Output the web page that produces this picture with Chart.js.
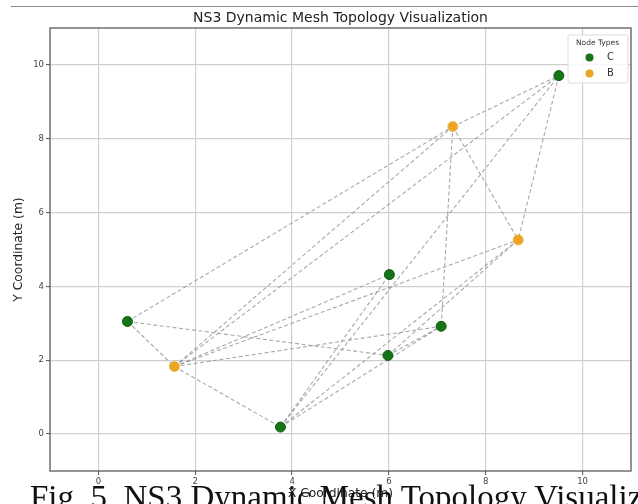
<!DOCTYPE html>
<html>
<head>
<meta charset="utf-8">
<script src="https://cdn.jsdelivr.net/npm/chart.js@4.4.1/dist/chart.umd.min.js"></script>
<style>
  html, body { margin: 0; padding: 0; background: #fff; width: 638px; height: 504px; overflow: hidden; }
  #wrap { position: relative; width: 638px; height: 504px; overflow: hidden; }
  #c { position: absolute; left: 0; top: 0; }
  #rule { position: absolute; left: 11px; right: 0; top: 6px; height: 1px; background: #8a8a8a; }
  #caption { position: absolute; left: 30px; top: 481px; font-family: 'Liberation Serif', 'DejaVu Serif', serif; font-size: 33px; color: #111; white-space: nowrap; line-height: 33px; }
</style>
</head>
<body>
<div id="wrap">
  <canvas id="c" width="638" height="504"></canvas>
  <div id="rule"></div>
  <div id="caption">Fig. 5. NS3 Dynamic Mesh Topology Visualization</div>
</div>
<script>
// ---- data ----
const chartTitle = 'NS3 Dynamic Mesh Topology Visualization';
const xAxisTitle = 'X Coordinate (m)';
const yAxisTitle = 'Y Coordinate (m)';
const legendTitle = 'Node Types';
const nodeTypes = ['C', 'B'];
const nodeX = [0.60, 1.57, 3.76, 6.01, 5.98, 7.08, 8.67, 7.32, 9.51];
const nodeY = [3.05, 1.83, 0.19, 4.32, 2.13, 2.92, 5.26, 8.33, 9.71];
const nodeType = ['C', 'B', 'C', 'C', 'C', 'C', 'B', 'B', 'C'];
const edgeFrom = [0, 0, 0, 1, 1, 1, 1, 1, 1, 2, 2, 2, 2, 4, 4, 7, 7, 7, 8];
const edgeTo   = [1, 7, 4, 2, 7, 8, 3, 6, 5, 3, 8, 5, 6, 5, 6, 5, 6, 8, 6];
const xTicks = [0, 2, 4, 6, 8, 10];
const yTicks = [0, 2, 4, 6, 8, 10];
const xRange = [-1, 11];
const yRange = [-1, 11];

// ---- styles ----
const typeFill = { C: '#177317', B: '#eaa526' };
const typeBorder = { C: '#0c5e0c', B: '#f2b640' };
const edgeColor = 'rgba(140,140,140,0.75)';
const gridColor = '#d0d0d0';
const frameColor = '#5a5a5a';
const textFont = "'DejaVu Sans', sans-serif";

const datasets = [];
for (let i = 0; i < edgeFrom.length; i++) {
  const a = edgeFrom[i], b = edgeTo[i];
  datasets.push({
    type: 'scatter',
    label: 'edge' + i,
    data: [{ x: nodeX[a], y: nodeY[a] }, { x: nodeX[b], y: nodeY[b] }],
    showLine: true,
    borderColor: edgeColor,
    borderWidth: 1.1,
    borderDash: [4, 2.5],
    pointRadius: 0,
    fill: false,
    order: 2
  });
}
nodeTypes.forEach(t => {
  const pts = [];
  for (let i = 0; i < nodeX.length; i++) if (nodeType[i] === t) pts.push({ x: nodeX[i], y: nodeY[i] });
  datasets.push({
    type: 'scatter',
    label: t,
    data: pts,
    pointRadius: 5,
    pointBackgroundColor: typeFill[t],
    pointBorderColor: typeBorder[t],
    pointBorderWidth: 1,
    order: 0
  });
});

const framePlugin = {
  id: 'frame',
  beforeDatasetsDraw(chart) {
    const { ctx, chartArea: a } = chart;
    ctx.save();
    ctx.strokeStyle = frameColor;
    ctx.lineWidth = 1.3;
    ctx.strokeRect(a.left, a.top, a.right - a.left, a.bottom - a.top);
    ctx.restore();
  },
  afterDraw(chart) {
    const { ctx, chartArea: a } = chart;
    ctx.save();
    // title
    ctx.fillStyle = '#222';
    ctx.font = '14px ' + textFont;
    ctx.textAlign = 'center';
    ctx.textBaseline = 'middle';
    ctx.fillText(chartTitle, (a.left + a.right) / 2, 18);
    // legend
    const bx = 568, by = 35, bw = 60, bh = 48;
    ctx.fillStyle = 'rgba(255,255,255,0.85)';
    ctx.strokeStyle = '#dcdcdc';
    ctx.lineWidth = 1;
    ctx.beginPath();
    if (ctx.roundRect) ctx.roundRect(bx, by, bw, bh, 2); else ctx.rect(bx, by, bw, bh);
    ctx.fill();
    ctx.stroke();
    ctx.fillStyle = '#333';
    ctx.font = '7.5px ' + textFont;
    ctx.fillText(legendTitle, bx + 29.5, by + 8);
    nodeTypes.forEach((t, k) => {
      const cy = by + 22.5 + k * 16;
      ctx.beginPath();
      ctx.arc(589.5, cy, 4, 0, Math.PI * 2);
      ctx.fillStyle = typeFill[t];
      ctx.fill();
      ctx.fillStyle = '#333';
      ctx.font = '10px ' + textFont;
      ctx.textAlign = 'left';
      ctx.fillText(t, 607, cy);
      ctx.textAlign = 'center';
    });
    ctx.restore();
  }
};

new Chart(document.getElementById('c'), {
  type: 'scatter',
  data: { datasets },
  options: {
    responsive: false,
    animation: false,
    layout: { padding: { top: 28, left: 0, right: 7, bottom: 0 } },
    plugins: { legend: { display: false }, tooltip: { enabled: false }, title: { display: false } },
    scales: {
      x: {
        type: 'linear',
        min: xRange[0], max: xRange[1],
        afterBuildTicks: s => { s.ticks = xTicks.map(v => ({ value: v })); },
        afterFit: s => { s.height = 33; },
        border: { display: false },
        grid: { color: gridColor, lineWidth: 1.2, drawTicks: true, tickLength: 4, tickColor: '#555', tickWidth: 1 },
        ticks: { font: { size: 8.5, family: textFont }, color: '#444', padding: 2, maxRotation: 0 },
        title: { display: true, text: xAxisTitle, font: { size: 12.3, family: textFont }, color: '#222', padding: { top: 0, bottom: 2.6 } }
      },
      y: {
        type: 'linear',
        min: yRange[0], max: yRange[1],
        afterBuildTicks: s => { s.ticks = yTicks.map(v => ({ value: v })); },
        afterFit: s => { s.width = 50; },
        border: { display: false },
        grid: { color: gridColor, lineWidth: 1.2, drawTicks: true, tickLength: 4, tickColor: '#555', tickWidth: 1 },
        ticks: { font: { size: 8.5, family: textFont }, color: '#444', padding: 2 },
        title: { display: true, text: yAxisTitle, font: { size: 12.3, family: textFont }, color: '#222', padding: { top: 11.6, bottom: 0 } }
      }
    }
  },
  plugins: [framePlugin]
});
</script>
</body>
</html>
